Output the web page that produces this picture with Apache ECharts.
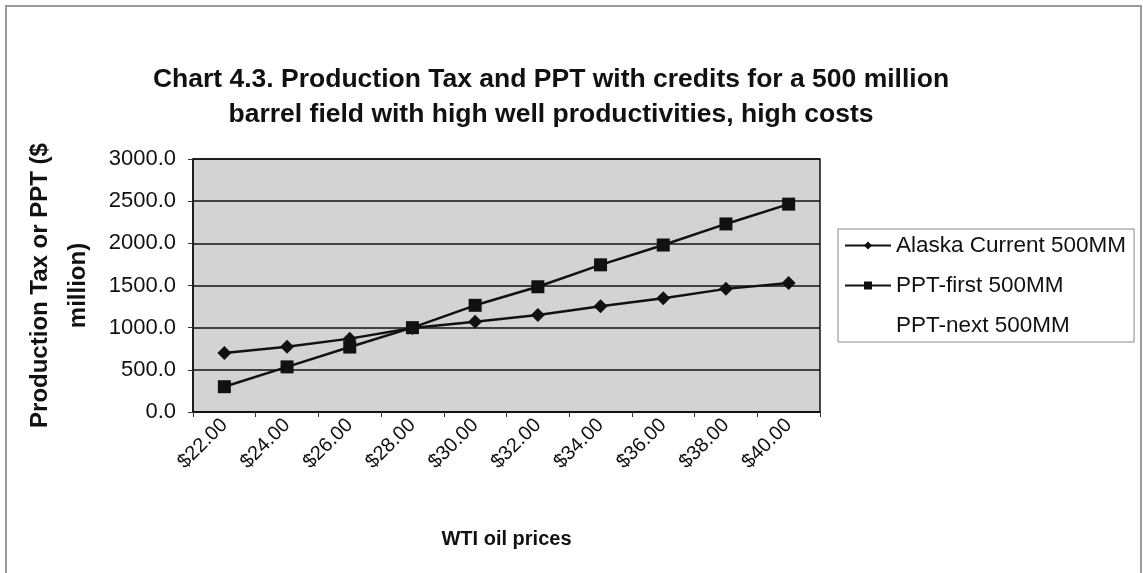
<!DOCTYPE html>
<html>
<head>
<meta charset="utf-8">
<script src="https://cdn.jsdelivr.net/npm/echarts@6/dist/echarts.min.js"></script>
<style>
  html, body { margin: 0; padding: 0; background: #fff; }
  #chart { width: 1143px; height: 573px; }
</style>
</head>
<body>
<div id="chart"></div>
<script>
// WTI price categories
const prices = ['$22.00', '$24.00', '$26.00', '$28.00', '$30.00', '$32.00', '$34.00', '$36.00', '$38.00', '$40.00'];
// $ million
const alaskaCurrent = [700, 775, 870, 995, 1070, 1150, 1255, 1350, 1460, 1530];
const pptFirst = [300, 535, 770, 1000, 1265, 1485, 1745, 1980, 2230, 2465];
const pptNext = [];

const chart = echarts.init(document.getElementById('chart'));
const font = 'Liberation Sans, Arial, sans-serif';

chart.setOption({
  animation: false,
  textStyle: { fontFamily: font },
  graphic: [{
    type: 'rect',
    shape: { x: 6, y: 6, width: 1135, height: 600 },
    style: { fill: 'none', stroke: '#9a9a9a', lineWidth: 2 },
    silent: true
  }],
  title: {
    text: 'Chart 4.3. Production Tax and PPT with credits for a 500 million\nbarrel field with high well productivities, high costs',
    left: 546,
    textAlign: 'center',
    top: 57,
    textStyle: { fontSize: 26.5, fontWeight: 'bold', color: '#111', lineHeight: 35, fontFamily: font }
  },
  legend: {
    orient: 'vertical',
    left: 838,
    top: 229,
    padding: [5, 8, 5, 6],
    itemGap: 17,
    itemWidth: 46,
    itemHeight: 10,
    borderColor: '#888',
    borderWidth: 1,
    backgroundColor: '#fff',
    textStyle: { fontSize: 22.5, color: '#111', fontFamily: font },
    data: [
      { name: 'Alaska Current 500MM' },
      { name: 'PPT-first 500MM' },
      { name: 'PPT-next 500MM', icon: 'none' }
    ]
  },
  grid: {
    left: 193,
    top: 159,
    width: 627,
    height: 253,
    show: true,
    backgroundColor: '#d3d3d3',
    borderColor: '#111',
    borderWidth: 1.5
  },
  xAxis: {
    type: 'category',
    data: prices,
    boundaryGap: true,
    name: 'WTI oil prices',
    nameLocation: 'middle',
    nameGap: 117,
    nameTextStyle: { fontSize: 20, fontWeight: 'bold', color: '#111' },
    axisLine: { lineStyle: { color: '#111', width: 1.5 } },
    axisTick: { show: true, length: 5, lineStyle: { color: '#333' } },
    axisLabel: { rotate: 45, fontSize: 20, color: '#111', margin: 10 }
  },
  yAxis: {
    type: 'value',
    min: 0,
    max: 3000,
    interval: 500,
    name: 'Production Tax or PPT ($\nmillion)',
    nameLocation: 'middle',
    nameGap: 93,
    nameTextStyle: { fontSize: 24, fontWeight: 'bold', color: '#111', lineHeight: 38, align: 'center' },
    axisLine: { show: true, lineStyle: { color: '#111', width: 1.5 } },
    axisTick: { show: true, length: 5, lineStyle: { color: '#333' } },
    axisLabel: { fontSize: 22, color: '#111', margin: 17, formatter: v => v.toFixed(1) },
    splitLine: { lineStyle: { color: '#111', width: 1.5 } }
  },
  series: [
    {
      name: 'Alaska Current 500MM',
      type: 'line',
      data: alaskaCurrent,
      symbol: 'diamond',
      symbolSize: 14,
      itemStyle: { color: '#111' },
      lineStyle: { color: '#111', width: 2.5 }
    },
    {
      name: 'PPT-first 500MM',
      type: 'line',
      data: pptFirst,
      symbol: 'rect',
      symbolSize: 13,
      itemStyle: { color: '#111' },
      lineStyle: { color: '#111', width: 2.5 }
    },
    {
      name: 'PPT-next 500MM',
      type: 'line',
      data: pptNext,
      symbol: 'none',
      itemStyle: { color: '#111' },
      lineStyle: { color: '#111', width: 2.5 }
    }
  ]
});
</script>
</body>
</html>
